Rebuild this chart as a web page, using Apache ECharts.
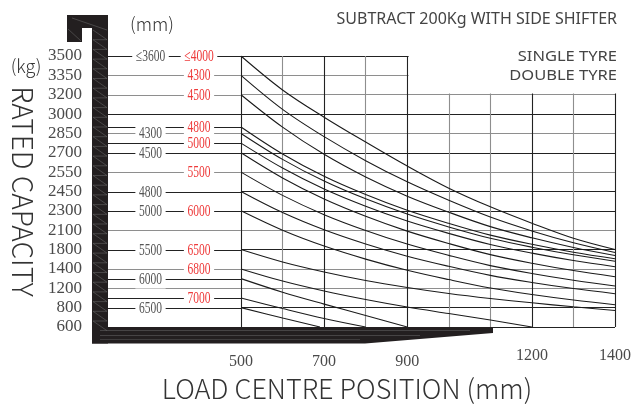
<!DOCTYPE html>
<html><head><meta charset="utf-8">
<script src="https://cdn.jsdelivr.net/npm/echarts@6/dist/echarts.min.js"></script>
<style>html,body{margin:0;padding:0;background:#fff}#c{width:641px;height:408px}</style>
</head><body><div id="c"></div>
<script>
// ---------- data ----------
// y tick labels (kg), bottom -> top; the chart spaces them evenly
const LEVELS = [600, 800, 1200, 1400, 1800, 2100, 2300, 2450, 2550, 2700, 2850, 3000, 3200, 3350, 3500];
// load centre positions (mm)
const LOAD_CENTRES = [500, 600, 700, 800, 900, 1000, 1100, 1200, 1300, 1400];
const X_TICK_LABELS = [500, 700, 900, 1200, 1400];

// rated capacity (kg) at each load centre, one curve per mast height
const capA = [3500, 3237, 2976, 2783, 2597, 2467, 2331, 2172, 1975, 1801]; // <=3600 / <=4000
const capB = [3350, 3049, 2825, 2639, 2500, 2382, 2236, 2089, 1905, 1740]; // D 4300
const capC = [3200, 2899, 2688, 2525, 2414, 2286, 2137, 1982, 1832, 1678]; // D 4500
const capD = [2900, 2691, 2529, 2427, 2305, 2171, 2024, 1882, 1746, 1611]; // D 4800
const capE = [2850, 2649, 2504, 2393, 2267, 2134, 1975, 1837, 1692, 1560]; // S 4300
const capF = [2775, 2582, 2463, 2336, 2195, 2051, 1879, 1727, 1574, 1446]; // D 5000
const capG = [2700, 2520, 2392, 2244, 2086, 1894, 1696, 1518, 1383, 1319]; // S 4500
const capH = [2550, 2420, 2261, 2096, 1885, 1680, 1469, 1353, 1283, 1224]; // D 5500
const capI = [2450, 2282, 2104, 1886, 1663, 1454, 1333, 1260, 1194, 1088]; // S 4800
const capJ = [2300, 2099, 1854, 1603, 1386, 1290, 1203, 1072, 958, 861];   // S 5000 / D 6000
const capK = [1800, 1543, 1368, 1280, 1208, 1092, 989, 900, 817, 770];     // S 5500 / D 6500
const lcL = [500, 600, 700, 800, 900, 1000, 1100, 1200];
const capL = [1400, 1275, 1144, 968, 813, 739, 672, 600];                  // D 6800
const lcM = [500, 600, 700, 800, 900];
const capM = [1300, 1119, 873, 719, 600];                                  // S 6000
const lcN = [500, 600, 700, 800];
const capN = [1000, 791, 688, 600];                                        // D 7000
const lcO = [500, 600, 690];
const capO = [800, 693, 600];                                              // S 6500

// mast-height call-outs: capacity at 500 mm, single tyre mast, double tyre mast
const LEADERS = [
  [3500, '≤3600', '≤4000'], [3350, '', '4300'], [3200, '', '4500'], [3000, '', ''],
  [2900, '', '4800'], [2850, '4300', ''], [2775, '', '5000'], [2700, '4500', ''],
  [2550, '', '5500'], [2450, '4800', ''], [2300, '5000', '6000'], [2100, '', ''],
  [1800, '5500', '6500'], [1400, '', '6800'], [1300, '6000', ''], [1200, '', ''],
  [1000, '', '7000'], [800, '6500', '']
];

// ---------- scale: evenly spaced capacity levels ----------
function toPos(kg) {
  for (let i = 0; i < LEVELS.length - 1; i++) {
    if (kg <= LEVELS[i + 1]) return i + (kg - LEVELS[i]) / (LEVELS[i + 1] - LEVELS[i]);
  }
  return LEVELS.length - 1;
}

const DARK = '#222222', GRAY = '#8e8e8e';
const ySplitColors = [DARK, DARK, GRAY, GRAY, DARK, GRAY, DARK, DARK, GRAY, DARK, GRAY, DARK, GRAY, GRAY, DARK];
const xSplitColors = [DARK, GRAY, DARK, GRAY, DARK, GRAY, GRAY, DARK, GRAY, DARK];
const SANS = '"Noto Sans CJK SC", "Noto Sans", sans-serif';
const WIDE_SANS = '"Noto Sans", "DejaVu Sans", sans-serif';
const SERIF = '"Liberation Serif", "DejaVu Serif", serif';

const curves = [
  [LOAD_CENTRES, capA], [LOAD_CENTRES, capB], [LOAD_CENTRES, capC], [LOAD_CENTRES, capD],
  [LOAD_CENTRES, capE], [LOAD_CENTRES, capF], [LOAD_CENTRES, capG], [LOAD_CENTRES, capH],
  [LOAD_CENTRES, capI], [LOAD_CENTRES, capJ], [LOAD_CENTRES, capK],
  [lcL, capL], [lcM, capM], [lcN, capN], [lcO, capO]
];

const series = curves.map(([xs, ys]) => ({
  type: 'line',
  data: xs.map((x, j) => [x, toPos(ys[j])]),
  smooth: 0.35,
  symbol: 'none',
  silent: true,
  lineStyle: { color: '#1b1b1b', width: 1.1 },
  z: 3
}));

const option = {
  animation: false,
  backgroundColor: '#fff',
  title: {
    text: 'SUBTRACT 200Kg WITH SIDE SHIFTER',
    right: 19, top: 6,
    textStyle: { fontFamily: WIDE_SANS, fontSize: 16, fontWeight: 'normal', color: '#444' }
  },
  grid: { left: 241, right: 26, top: 56, bottom: 81 },
  xAxis: {
    type: 'value', min: 500, max: 1400, interval: 100,
    name: 'LOAD CENTRE POSITION (mm)',
    nameLocation: 'middle', nameGap: 46,
    nameTextStyle: { fontFamily: SANS, fontSize: 27, fontWeight: 300, color: '#333', padding: [0, 162, 0, 0] },
    axisLine: { show: false }, axisTick: { show: false },
    splitLine: { show: true, lineStyle: { color: xSplitColors, width: 1.1 } },
    axisLabel: {
      margin: 21,
      formatter: v => X_TICK_LABELS.indexOf(v) < 0 ? '' : (v >= 1000 ? '{b|' + v + '}' : '{a|' + v + '}'),
      rich: {
        a: { fontFamily: SERIF, fontSize: 16, color: '#4a4a4a', padding: [6, 0, 0, 0] },
        b: { fontFamily: SERIF, fontSize: 16, color: '#4a4a4a' }
      }
    }
  },
  yAxis: {
    type: 'value', min: 0, max: LEVELS.length - 1, interval: 1,
    name: 'RATED CAPACITY',
    nameLocation: 'middle', nameRotate: -90, nameGap: 200,
    nameTextStyle: { fontFamily: SANS, fontSize: 28, fontWeight: 300, color: '#333' },
    axisLine: { show: false }, axisTick: { show: false },
    splitLine: { show: true, lineStyle: { color: ySplitColors, width: 1.1 } },
    axisLabel: {
      margin: 159,
      formatter: v => String(LEVELS[v]),
      fontFamily: SERIF, fontSize: 17, color: '#4a4a4a'
    }
  },
  series: series
};

const chart = echarts.init(document.getElementById('c'), null, { renderer: 'canvas' });
chart.setOption(option);

// ---------- decorations: mast, forks, call-out lines ----------
const MAST_R = 108, GRID_L = 241, GRAY_LABEL_X = 150.5, RED_LABEL_X = 199;
const g = [];
// blank the area right of 900 mm above 3200 kg
g.push({ type: 'rect', shape: { x: 408.6, y: 36, width: 214, height: 57.6 }, style: { fill: '#fff' }, z: 20 });
g.push({ type: 'text', x: 617, y: 57, scaleX: 1.1, z: 21, style: { text: 'SINGLE TYRE', align: 'right', verticalAlign: 'middle', fontFamily: WIDE_SANS, fontSize: 15, fill: '#444' } });
g.push({ type: 'text', x: 617, y: 76, scaleX: 1.1, z: 21, style: { text: 'DOUBLE TYRE', align: 'right', verticalAlign: 'middle', fontFamily: WIDE_SANS, fontSize: 15, fill: '#444' } });
g.push({ type: 'text', x: 152, y: 24, z: 21, style: { text: '(mm)', align: 'center', verticalAlign: 'middle', fontFamily: SANS, fontSize: 18, fontWeight: 300, fill: '#333' } });
g.push({ type: 'text', x: 26, y: 66, z: 21, style: { text: '(kg)', align: 'center', verticalAlign: 'middle', fontFamily: SANS, fontSize: 18, fontWeight: 300, fill: '#333' } });

LEADERS.forEach(([kg, single, dbl]) => {
  const lvl = LEVELS.indexOf(kg);
  const y = Math.round(chart.convertToPixel({ gridIndex: 0 }, [500, toPos(kg)])[1]) + 0.5;
  const col = lvl >= 0 ? ySplitColors[lvl] : DARK;
  g.push({ type: 'line', shape: { x1: MAST_R, y1: y, x2: GRID_L, y2: y }, style: { stroke: col, lineWidth: 1.1 }, z: 10 });
  if (single) g.push({ type: 'text', x: GRAY_LABEL_X, y: y, scaleX: 0.72, z: 12,
    style: { text: single, align: 'center', verticalAlign: 'middle', fontFamily: SERIF, fontSize: 16, fill: '#555', backgroundColor: '#fff', padding: [1, 5] } });
  if (dbl) g.push({ type: 'text', x: RED_LABEL_X, y: y, scaleX: 0.72, z: 12,
    style: { text: dbl, align: 'center', verticalAlign: 'middle', fontFamily: SERIF, fontSize: 16, fill: '#ee3b3b', backgroundColor: '#fff', padding: [1, 5] } });
});

// mast
g.push({ type: 'polygon', z: 15, shape: { points: [[67, 15], [108, 15], [108, 343.5], [92, 343.5], [92, 28], [82, 28], [82, 42], [67, 42]] }, style: { fill: '#231f20' } });
// forks
g.push({ type: 'polygon', z: 15, shape: { points: [[92, 327], [493, 327], [493, 333], [365, 343.5], [92, 343.5]] }, style: { fill: '#231f20' } });
// thin highlights on mast and forks
const zig = [];
for (let y = 30; y < 325; y += 9.7) zig.push([93, y], [107, y + 9.7]);
g.push({ type: 'polyline', z: 16, shape: { points: zig }, style: { stroke: '#6e6e6e', lineWidth: 0.5, fill: null } });
g.push({ type: 'line', z: 16, shape: { x1: 72, y1: 18, x2: 107, y2: 30 }, style: { stroke: '#6e6e6e', lineWidth: 0.5 } });
g.push({ type: 'line', z: 16, shape: { x1: 68, y1: 29, x2: 81, y2: 41 }, style: { stroke: '#6e6e6e', lineWidth: 0.5 } });
g.push({ type: 'line', z: 16, shape: { x1: 100, y1: 330.5, x2: 470, y2: 330.5 }, style: { stroke: '#6a6a6a', lineWidth: 0.5 } });
g.push({ type: 'line', z: 16, shape: { x1: 100, y1: 335.5, x2: 420, y2: 335.5 }, style: { stroke: '#6a6a6a', lineWidth: 0.5 } });
g.push({ type: 'line', z: 16, shape: { x1: 100, y1: 339.5, x2: 360, y2: 339.5 }, style: { stroke: '#5a5a5a', lineWidth: 0.5 } });

chart.setOption({ graphic: { elements: g } });
</script>
</body></html>
